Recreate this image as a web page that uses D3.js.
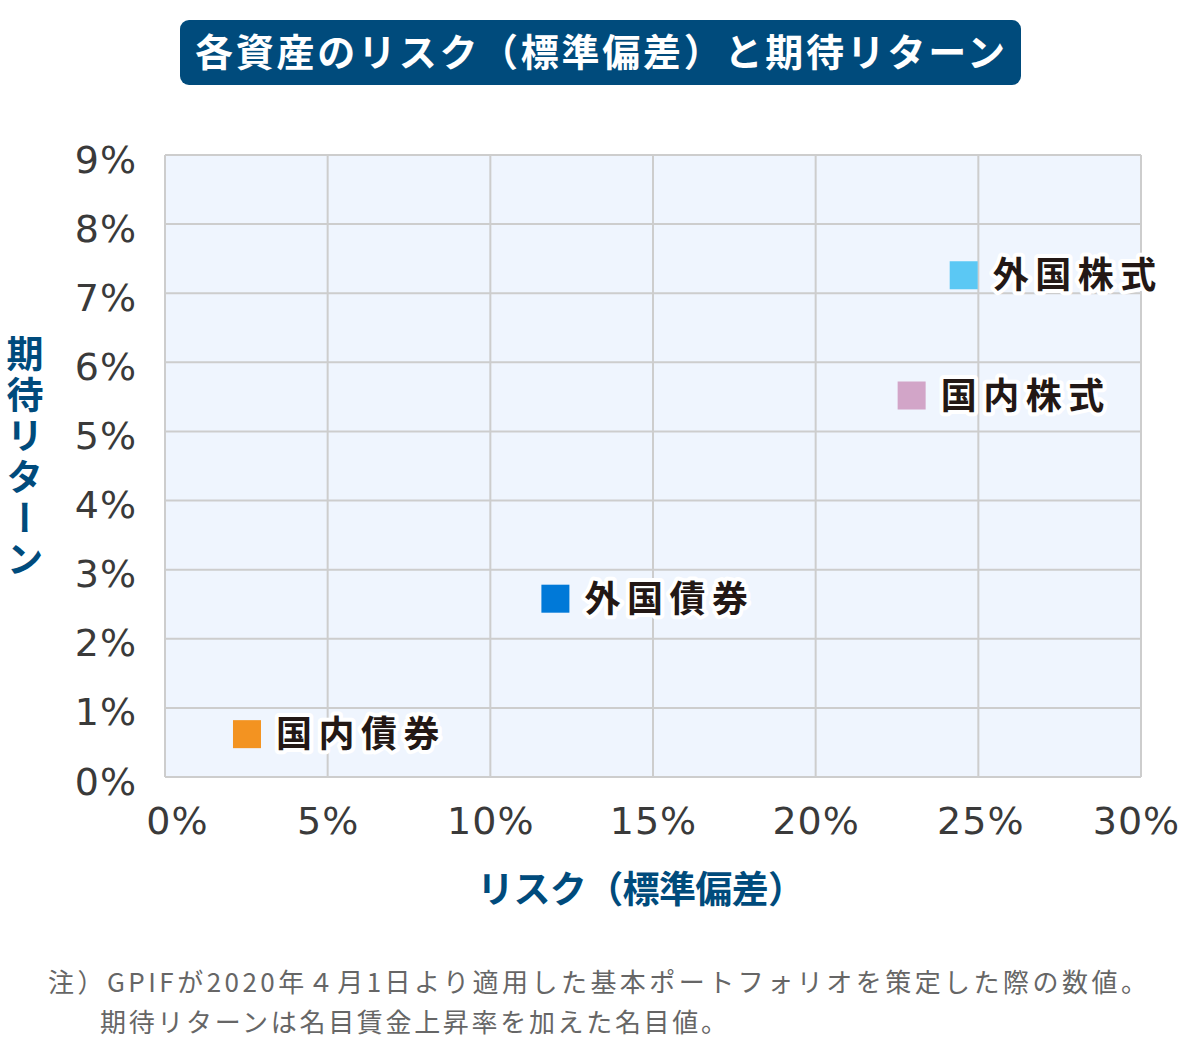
<!DOCTYPE html>
<html><head><meta charset="utf-8">
<script src="https://cdn.jsdelivr.net/npm/d3@7"></script>
<style>body{margin:0;background:#fff}#wrap{position:relative;width:1200px;height:1046px}svg{display:block}
#ytitle{position:absolute;left:6px;top:335px;writing-mode:vertical-rl;font-family:'Noto Sans CJK JP',sans-serif;font-weight:700;font-size:37px;line-height:37px;letter-spacing:4px;color:#004b7c;white-space:nowrap}</style>
</head><body>
<div id="wrap"><svg id="c" width="1200" height="1046"></svg><div id="ytitle"></div></div>
<script>
const assets = ["国内債券","外国債券","国内株式","外国株式"];
const risk = [2.52, 12.0, 22.95, 24.55];
const ret = [0.62, 2.58, 5.52, 7.26];
const colors = ["#f39321","#0079d8","#d2a5c8","#5bc8f4"];
const xTicks = [0,5,10,15,20,25,30];
const yTicks = [0,1,2,3,4,5,6,7,8,9];
const title = "各資産のリスク（標準偏差）と期待リターン";
const xTitle = "リスク（標準偏差）";
const yTitle = "期待リターン";
const notes = ["注）GPIFが2020年４月1日より適用した基本ポートフォリオを策定した際の数値。","期待リターンは名目賃金上昇率を加えた名目値。"];

const JP = "'Noto Sans CJK JP','Noto Sans',sans-serif";
const NUM = "'DejaVu Sans',sans-serif";
const svg = d3.select("#c");
const x = d3.scaleLinear().domain([0,30]).range([165,1141]);
const y = d3.scaleLinear().domain([0,9]).range([777,155]);
const blue = "#004b7c";

// title
svg.append("rect").attr("x",180).attr("y",20).attr("width",841).attr("height",65).attr("rx",9).attr("fill",blue);
svg.append("text").attr("x",600).attr("y",66).attr("text-anchor","middle")
  .attr("font-family",JP).attr("font-weight",700).attr("font-size",38).attr("fill","#fff")
  .attr("textLength",810).attr("lengthAdjust","spacing").text(title);

// plot bg
svg.append("rect").attr("x",x(0)).attr("y",y(9)).attr("width",x(30)-x(0)).attr("height",y(0)-y(9)).attr("fill","#eff5fe");

// grid
const g = svg.append("g");
g.selectAll(".gx").data(xTicks).join("line").attr("x1",d=>x(d)).attr("x2",d=>x(d)).attr("y1",y(9)).attr("y2",y(0))
  .attr("stroke","#cdcdcd").attr("stroke-width",2);
g.selectAll(".gy").data(yTicks).join("line").attr("y1",d=>y(d)).attr("y2",d=>y(d)).attr("x1",x(0)).attr("x2",x(30))
  .attr("stroke","#cdcdcd").attr("stroke-width",2);

// axes via d3 axis
const xAxis = svg.append("g").attr("transform",`translate(0,${y(0)})`)
  .call(d3.axisBottom(x).tickValues(xTicks).tickFormat(d=>d+"%").tickSize(0).tickPadding(0));
const yAxis = svg.append("g").attr("transform",`translate(${x(0)},0)`)
  .call(d3.axisLeft(y).tickValues(yTicks).tickFormat(d=>d+"%").tickSize(0).tickPadding(28));
[xAxis,yAxis].forEach(a=>{
  a.select(".domain").remove();
  a.selectAll("text").attr("font-family",NUM).attr("font-size",38).attr("fill","#3a3a3a").attr("letter-spacing",1);
});
xAxis.selectAll("text").attr("y",57).attr("dy",null).attr("dx",d=> d===0?12:(d===30?-5:(d===25?2:0)));
yAxis.selectAll("text").attr("dy",17);

// points
const pts = svg.append("g");
const data = assets.map((a,i)=>({a,r:risk[i],e:ret[i],c:colors[i]}));
pts.selectAll("rect").data(data).join("rect")
  .attr("x",d=>x(d.r)-14).attr("y",d=>y(d.e)-14).attr("width",28).attr("height",28).attr("fill",d=>d.c);
pts.selectAll("text").data(data).join("text")
  .attr("x",d=>x(d.r)+29).attr("y",d=>y(d.e)+13)
  .attr("font-family",JP).attr("font-weight",700).attr("font-size",36).attr("letter-spacing",6.5)
  .attr("fill","#231815").attr("stroke","#fff").attr("stroke-width",8).attr("stroke-linejoin","round")
  .attr("paint-order","stroke").text(d=>d.a);

// axis titles
svg.append("text").attr("x",641).attr("y",903).attr("text-anchor","middle")
  .attr("font-family",JP).attr("font-weight",700).attr("font-size",37).attr("fill",blue)
  .attr("textLength",328).attr("lengthAdjust","spacing").text(xTitle);
d3.select("#ytitle").text(yTitle);

// notes
svg.append("text").attr("x",48).attr("y",992).attr("font-family",JP).attr("font-size",26).attr("fill","#666")
  .attr("textLength",1099).attr("lengthAdjust","spacing").text(notes[0]);
svg.append("text").attr("x",100).attr("y",1032).attr("font-family",JP).attr("font-size",26).attr("fill","#666")
  .attr("textLength",627).attr("lengthAdjust","spacing").text(notes[1]);
</script>
</body></html>
